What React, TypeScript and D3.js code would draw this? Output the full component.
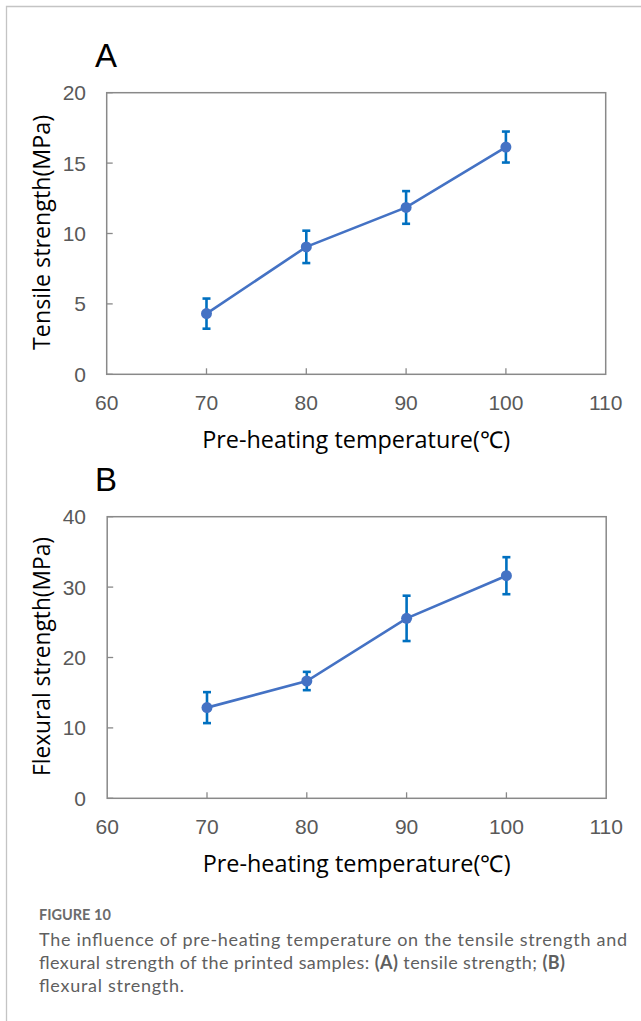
import React from "react";
import * as d3 from "d3";

const temperatures = [70, 80, 90, 100];
const tensileMean = [4.31, 9.05, 11.85, 16.14];
const tensileErr = [1.07, 1.15, 1.16, 1.1];
const flexuralMean = [12.88, 16.66, 25.56, 31.62];
const flexuralErr = [2.2, 1.3, 3.22, 2.63];
const xTicks = [60, 70, 80, 90, 100, 110];
const tensileTicks = [0, 5, 10, 15, 20];
const flexuralTicks = [0, 10, 20, 30, 40];

const LINE = "#4472C4";
const ERR = "#0070C0";
const AXIS = "#898989";
const TICKTXT = "#595959";

type PanelProps = {
  letter: string;
  top: number;
  left: number;
  right: number;
  height: number;
  yMax: number;
  yTicks: number[];
  means: number[];
  errs: number[];
  yTitle: string;
  yTitleLen: number;
};

function Panel(p: PanelProps) {
  const x = d3.scaleLinear().domain([60, 110]).range([p.left, p.right]);
  const y = d3.scaleLinear().domain([0, p.yMax]).range([p.top + p.height, p.top]);
  const bottom = p.top + p.height;
  const pts = temperatures.map((t, i) => [x(t), y(p.means[i])] as [number, number]);
  const line = d3.line()(pts) || "";
  return (
    <g>
      <text x={95} y={p.top - 26} fontFamily="Liberation Sans, Arial, sans-serif" fontSize={33} fill="#000">
        {p.letter}
      </text>
      <rect x={p.left} y={p.top} width={p.right - p.left} height={p.height} fill="none" stroke={AXIS} strokeWidth={1.5} />
      {p.yTicks.map((t) => (
        <g key={"y" + t}>
          <line x1={p.left} x2={p.left + 6} y1={y(t)} y2={y(t)} stroke={AXIS} strokeWidth={1.3} />
          <text x={86} y={y(t)} dy="0.36em" textAnchor="end" fontFamily="Liberation Sans, Arial, sans-serif" fontSize={21} fill={TICKTXT}>
            {t}
          </text>
        </g>
      ))}
      {xTicks.map((t) => (
        <g key={"x" + t}>
          {t > 60 && t < 110 && (
            <line x1={x(t)} x2={x(t)} y1={bottom} y2={bottom - 6} stroke={AXIS} strokeWidth={1.3} />
          )}
          <text x={x(t)} y={bottom + 36} textAnchor="middle" fontFamily="Liberation Sans, Arial, sans-serif" fontSize={21} fill={TICKTXT}>
            {t}
          </text>
        </g>
      ))}
      <text
        x={(p.left + p.right) / 2}
        y={bottom + 74}
        textAnchor="middle"
        fontFamily="Open Sans, sans-serif"
        fontSize={23}
        fill="#000"
        textLength={308}
        lengthAdjust="spacingAndGlyphs"
      >
        Pre-heating temperature(℃)
      </text>
      <text
        transform={`translate(50,${p.top + p.height / 2 - 1}) rotate(-90)`}
        textAnchor="middle"
        fontFamily="Open Sans, sans-serif"
        fontSize={23}
        fill="#000"
        textLength={p.yTitleLen}
        lengthAdjust="spacingAndGlyphs"
      >
        {p.yTitle}
      </text>
      <path d={line} fill="none" stroke={LINE} strokeWidth={2.6} />
      {temperatures.map((t, i) => {
        const cx = x(t);
        const y1 = y(p.means[i] + p.errs[i]);
        const y2 = y(p.means[i] - p.errs[i]);
        return (
          <g key={"e" + t}>
            <line x1={cx} x2={cx} y1={y1} y2={y2} stroke={ERR} strokeWidth={2.6} />
            <line x1={cx - 4} x2={cx + 4} y1={y1} y2={y1} stroke={ERR} strokeWidth={2.6} />
            <line x1={cx - 4} x2={cx + 4} y1={y2} y2={y2} stroke={ERR} strokeWidth={2.6} />
          </g>
        );
      })}
      {pts.map((pt, i) => (
        <circle key={"c" + i} cx={pt[0]} cy={pt[1]} r={5.5} fill={LINE} />
      ))}
    </g>
  );
}

export default function App() {
  return (
    <div style={{ position: "absolute", left: 0, top: 0, background: "#fff" }}>
      <svg width={641} height={1021} style={{ display: "block" }}>
        <rect x={0} y={0} width={641} height={1021} fill="#fff" />
        <path d="M6.5,1021 V6.5 H641" fill="none" stroke="#c4c4c4" strokeWidth={1.3} />
        <Panel
          letter="A"
          top={92.7}
          left={106.7}
          right={605.7}
          height={281.6}
          yMax={20}
          yTicks={tensileTicks}
          means={tensileMean}
          errs={tensileErr}
          yTitle="Tensile strength(MPa)"
          yTitleLen={235}
        />
        <Panel
          letter="B"
          top={516.7}
          left={107.2}
          right={606.2}
          height={281.6}
          yMax={40}
          yTicks={flexuralTicks}
          means={flexuralMean}
          errs={flexuralErr}
          yTitle="Flexural strength(MPa)"
          yTitleLen={239}
        />
        <text x={39} y={920} fontFamily="Lato, Open Sans, sans-serif" fontWeight={700} fontSize={14.5} fill="#6b6b6b">
          FIGURE 10
        </text>
        <g fontFamily="Lato, Open Sans, sans-serif" fontSize={18} fill="#5f5f5f">
          <text x={39} y={946} textLength={588} lengthAdjust="spacing">
            The influence of pre-heating temperature on the tensile strength and
          </text>
          <text x={39} y={969} textLength={526} lengthAdjust="spacing">
            flexural strength of the printed samples: <tspan fontWeight={700}>(A)</tspan> tensile strength;{" "}
            <tspan fontWeight={700}>(B)</tspan>
          </text>
          <text x={39} y={992} textLength={145} lengthAdjust="spacing">
            flexural strength.
          </text>
        </g>
      </svg>
    </div>
  );
}
